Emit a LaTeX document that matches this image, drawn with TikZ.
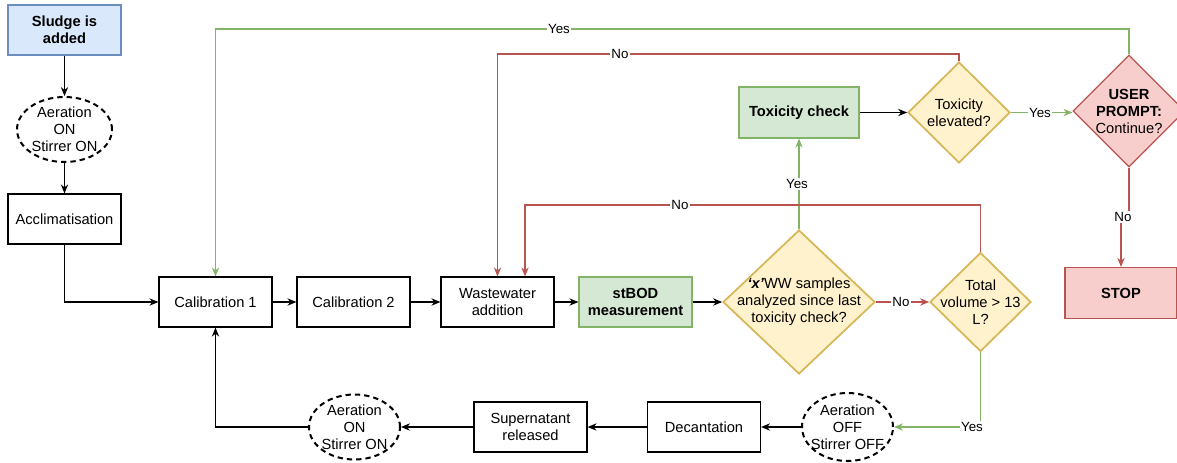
\documentclass[tikz,border=0pt]{standalone}
\usepackage{fontspec}
\setmainfont{Liberation Sans}
\usetikzlibrary{shapes.geometric,arrows.meta,calc}

\definecolor{bluefill}{HTML}{DAE8FC}
\definecolor{blueline}{HTML}{6C8EBF}
\definecolor{greenfill}{HTML}{D5E8D4}
\definecolor{greenline}{HTML}{82B366}
\definecolor{yellowfill}{HTML}{FFF2CC}
\definecolor{yellowline}{HTML}{D6B656}
\definecolor{redfill}{HTML}{F8CECC}
\definecolor{redline}{HTML}{B85450}

\newcommand{\mainsize}{\fontsize{11}{12.75}\selectfont}
\newcommand{\lblsize}{\fontsize{10}{12}\selectfont}

\tikzset{
  >={Stealth[length=6.75pt,width=5.5pt]},
  stepbox/.style={draw=black, line width=0.9pt, rectangle, align=center,
    minimum width=84.75pt, minimum height=37.5pt, inner sep=2pt, font=\mainsize},
  bluebox/.style={stepbox, fill=bluefill, draw=blueline, font=\mainsize\bfseries},
  greenbox/.style={stepbox, fill=greenfill, draw=greenline, font=\mainsize\bfseries},
  redbox/.style={stepbox, fill=redfill, draw=redline, font=\mainsize\bfseries},
  decision/.style={diamond, draw=yellowline, fill=yellowfill, line width=1.3pt, inner sep=0pt},
  stopdecision/.style={diamond, draw=redline, fill=redfill, line width=0.9pt, inner sep=0pt},
  centertext/.style={label={[align=center, font=\mainsize]center:#1}},
  switchstate/.style={ellipse, draw=black, line width=1.5pt, dash pattern=on 4pt off 3pt,
    inner sep=0pt, minimum width=68.25pt, minimum height=48.75pt},
  flow/.style={draw=black, line width=0.8pt, ->},
  yesflow/.style={draw=greenline, line width=0.8pt, ->},
  noflow/.style={draw=redline, line width=0.8pt, ->},
  lbl/.style={fill=white, inner sep=0.8pt, font=\lblsize},
}

\begin{document}
\begin{tikzpicture}[x=0.75pt, y=-0.75pt]
\useasboundingbox (0,0) rectangle (1177,462);

% start and acclimatisation column
\node[bluebox] (sludge) at (64.5,30) {Sludge is\\added};
\node[switchstate, minimum width=71.25pt, centertext={Aeration\\ON\\Stirrer ON}] (aer1) at (64.5,129.5) {};
\node[stepbox] (accl) at (64.5,219) {Acclimatisation};

% main measurement row
\node[stepbox] (cal1) at (215.5,302) {Calibration 1};
\node[stepbox] (cal2) at (353.5,302) {Calibration 2};
\node[stepbox] (ww) at (497.5,302) {Wastewater\\addition};
\node[greenbox] (bod) at (635.5,302) {stBOD\\measurement};
\node[decision, minimum width=114pt, minimum height=108pt,
      centertext={\textbf{\textit{‘x’}}WW samples\\analyzed since last\\toxicity check?}] (xcheck) at (799,302) {};
\node[decision, minimum width=75.75pt, minimum height=74.25pt,
      centertext={Total\\volume > 13\\L?}] (vol) at (980.5,302) {};

% toxicity row
\node[greenbox, minimum width=90pt, minimum height=38.25pt] (tox) at (799,112.5) {Toxicity check};
\node[decision, minimum width=76.5pt, minimum height=75.75pt,
      centertext={Toxicity\\elevated?}] (toxhigh) at (959,112.5) {};
\node[stopdecision, minimum width=84pt, minimum height=84pt,
      centertext={\textbf{USER}\\\textbf{PROMPT:}\\Continue?}] (prompt) at (1129,111) {};
\node[redbox, minimum width=84pt, minimum height=38.25pt] (stop) at (1121,293) {STOP};

% settling row
\node[switchstate, minimum height=51pt, centertext={Aeration\\OFF\\Stirrer OFF}] (aeroff) at (847.5,427) {};
\node[stepbox] (decant) at (704,427) {Decantation};
\node[stepbox] (super) at (530.5,427) {Supernatant\\released};
\node[switchstate, centertext={Aeration\\ON\\Stirrer ON}] (aer2) at (354.5,427) {};

% connectors
\draw[flow] (sludge) -- (aer1);
\draw[flow] (aer1) -- (accl);
\draw[flow] (accl.south) |- (cal1.west);
\draw[flow] (cal1) -- (cal2);
\draw[flow] (cal2) -- (ww);
\draw[flow] (ww) -- (bod);
\draw[flow] (bod) -- (xcheck);
\draw[noflow] (xcheck) -- (vol);
\draw[yesflow] (xcheck.north) -- (tox.south);
\draw[flow] (tox) -- (toxhigh);
\draw[yesflow] (toxhigh.east) -- (toxhigh.east -| prompt.west);
\draw[noflow] (vol.north) -- (vol.north |- 0,205) -| ($(ww.north)+(27.5,0)$);
\draw[noflow] (toxhigh.north) -- (toxhigh.north |- 0,54) -| (ww.north);
\draw[yesflow] (prompt.north) -- (prompt.north |- 0,29) -| (cal1.north);
\draw[noflow] (prompt.south) -- (prompt.south |- 0,217) -| (stop.north);
\draw[yesflow] (vol.south) |- (aeroff.east);
\draw[flow] (aeroff) -- (decant);
\draw[flow] (decant) -- (super);
\draw[flow] (super) -- (aer2);
\draw[flow] (aer2.west) -| (cal1.south);

% branch labels
\node[lbl] (l1) at (559,29) {Yes};
\node[lbl] (l2) at (620,54) {No};
\node[lbl] (l3) at (680,205) {No};
\node[lbl] (l4) at (797,184) {Yes};
\node[lbl] (l5) at (901,302) {No};
\node[lbl] (l6) at (1040,112.5) {Yes};
\node[lbl] (l7) at (1123,217) {No};
\node[lbl] (l8) at (972,427) {Yes};
\end{tikzpicture}
\end{document}
